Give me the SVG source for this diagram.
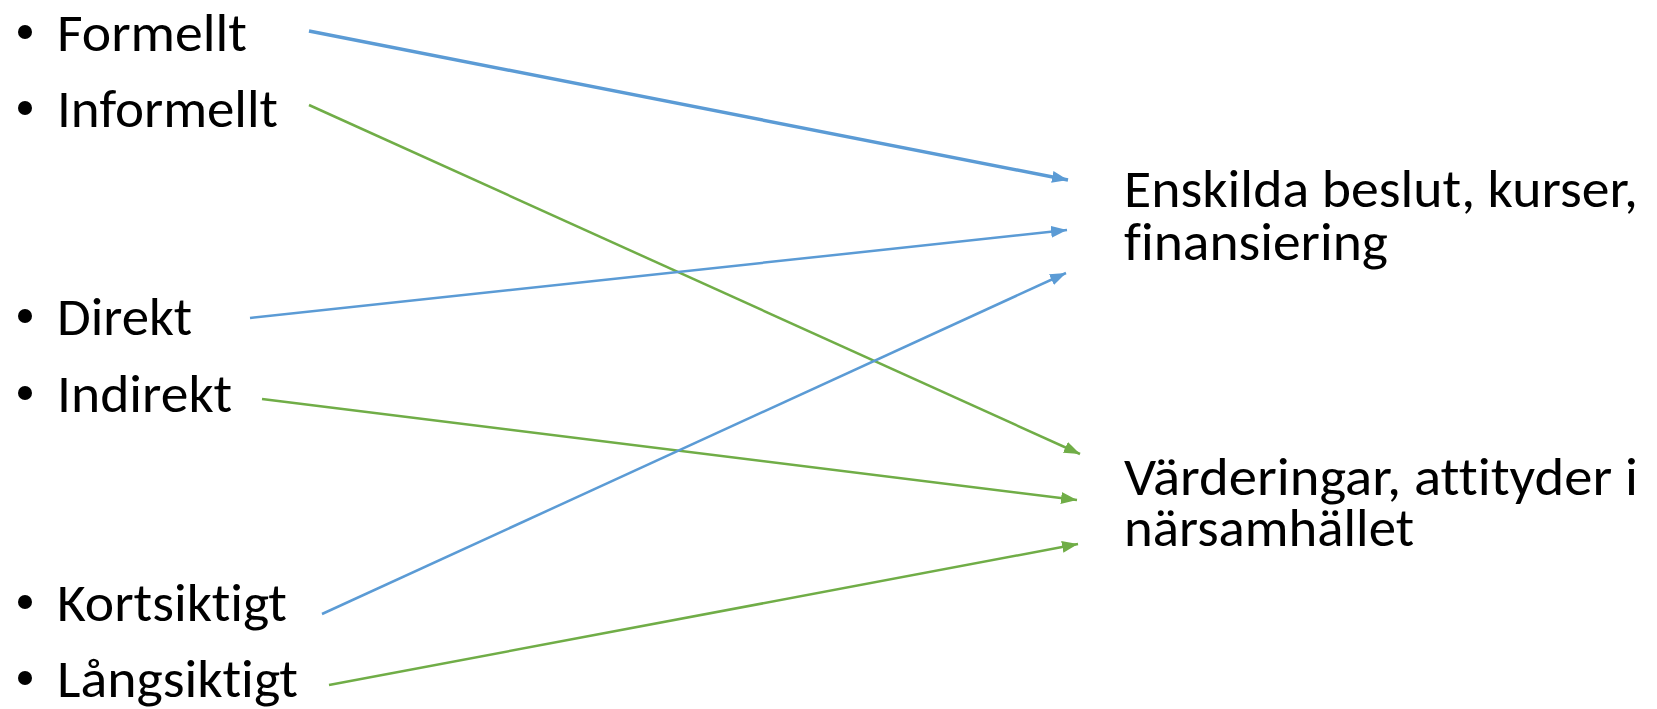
<svg xmlns="http://www.w3.org/2000/svg" width="1657" height="709" viewBox="0 0 1657 709">
<style>
.t{font-family:Carlito,Calibri,Lato,"Open Sans",sans-serif;font-size:53px;fill:#000;font-variant-ligatures:none;font-feature-settings:"liga" 0,"clig" 0}
.b{fill:#000}
.blue{stroke:#5B9BD5;fill:none;stroke-width:2.5}
.green{stroke:#70AD47;fill:none;stroke-width:2.5}
</style>
<defs>
<marker id="ab" markerUnits="userSpaceOnUse" markerWidth="18" markerHeight="14" refX="16" refY="6" orient="auto"><path d="M0,0 L16,6 L0,12 Z" fill="#5B9BD5"/></marker>
<marker id="ag" markerUnits="userSpaceOnUse" markerWidth="18" markerHeight="14" refX="16" refY="6" orient="auto"><path d="M0,0 L16,6 L0,12 Z" fill="#70AD47"/></marker>
</defs>
<rect width="1657" height="709" fill="#fff"/>
<g id="n-formellt"><circle class="b" cx="25" cy="32" r="7"/><text class="t" x="57" y="51" textLength="190" lengthAdjust="spacingAndGlyphs">Formellt</text></g>
<g id="n-informellt"><circle class="b" cx="25" cy="108" r="7"/><text class="t" x="57" y="127" textLength="221" lengthAdjust="spacingAndGlyphs">Informellt</text></g>
<g id="n-direkt"><circle class="b" cx="25" cy="316" r="7"/><text class="t" x="57" y="335" textLength="135" lengthAdjust="spacingAndGlyphs">Direkt</text></g>
<g id="n-indirekt"><circle class="b" cx="25" cy="393" r="7"/><text class="t" x="57" y="412" textLength="175" lengthAdjust="spacingAndGlyphs">Indirekt</text></g>
<g id="n-kortsiktigt"><circle class="b" cx="25" cy="602" r="7"/><text class="t" x="57" y="621" textLength="230" lengthAdjust="spacingAndGlyphs">Kortsiktigt</text></g>
<g id="n-langsiktigt"><circle class="b" cx="25" cy="678" r="7"/><text class="t" x="57" y="697" textLength="241" lengthAdjust="spacingAndGlyphs">Långsiktigt</text></g>
<g id="n-enskilda"><text class="t"><tspan x="1124" y="207" textLength="514" lengthAdjust="spacingAndGlyphs">Enskilda beslut, kurser,</tspan><tspan x="1124" y="260" textLength="264" lengthAdjust="spacingAndGlyphs">finansiering</tspan></text></g>
<g id="n-varderingar"><text class="t"><tspan x="1124" y="495" textLength="514" lengthAdjust="spacingAndGlyphs">Värderingar, attityder i</tspan><tspan x="1124" y="546" textLength="290" lengthAdjust="spacingAndGlyphs">närsamhället</tspan></text></g>
<g id="connectors">
<line class="blue" x1="309" y1="31" x2="1068" y2="180" marker-end="url(#ab)" style="stroke-width:3.5"/>
<line class="green" x1="309" y1="105" x2="1080" y2="454" marker-end="url(#ag)"/>
<line class="blue" x1="250" y1="318" x2="1067" y2="230" marker-end="url(#ab)"/>
<line class="green" x1="262" y1="399" x2="1077" y2="500" marker-end="url(#ag)"/>
<line class="blue" x1="322" y1="614" x2="1066" y2="273" marker-end="url(#ab)"/>
<line class="green" x1="329" y1="685" x2="1078" y2="544" marker-end="url(#ag)"/>
</g>
</svg>
